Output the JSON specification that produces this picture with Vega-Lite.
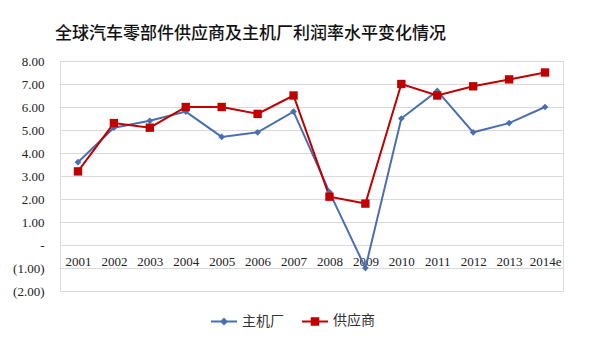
{
  "$schema": "https://vega.github.io/schema/vega-lite/v6.json",
  "width": 503,
  "height": 230,
  "autosize": "none",
  "padding": {"left": 60, "top": 61, "right": 37, "bottom": 60},
  "background": "white",
  "title": {
    "text": "全球汽车零部件供应商及主机厂利润率水平变化情况",
    "anchor": "start",
    "frame": "group",
    "dx": -5,
    "offset": 12,
    "font": "Noto Sans CJK SC",
    "fontSize": 17,
    "fontWeight": 500,
    "color": "#111111"
  },
  "data": {
    "values": [
      {"year": "2001", "series": "主机厂", "value": 3.6},
      {"year": "2002", "series": "主机厂", "value": 5.1},
      {"year": "2003", "series": "主机厂", "value": 5.4},
      {"year": "2004", "series": "主机厂", "value": 5.8},
      {"year": "2005", "series": "主机厂", "value": 4.7},
      {"year": "2006", "series": "主机厂", "value": 4.9},
      {"year": "2007", "series": "主机厂", "value": 5.8},
      {"year": "2008", "series": "主机厂", "value": 2.3},
      {"year": "2009", "series": "主机厂", "value": -1.0},
      {"year": "2010", "series": "主机厂", "value": 5.5},
      {"year": "2011", "series": "主机厂", "value": 6.7},
      {"year": "2012", "series": "主机厂", "value": 4.9},
      {"year": "2013", "series": "主机厂", "value": 5.3},
      {"year": "2014e", "series": "主机厂", "value": 6.0},
      {"year": "2001", "series": "供应商", "value": 3.2},
      {"year": "2002", "series": "供应商", "value": 5.3},
      {"year": "2003", "series": "供应商", "value": 5.1},
      {"year": "2004", "series": "供应商", "value": 6.0},
      {"year": "2005", "series": "供应商", "value": 6.0},
      {"year": "2006", "series": "供应商", "value": 5.7},
      {"year": "2007", "series": "供应商", "value": 6.5},
      {"year": "2008", "series": "供应商", "value": 2.1},
      {"year": "2009", "series": "供应商", "value": 1.8},
      {"year": "2010", "series": "供应商", "value": 7.0},
      {"year": "2011", "series": "供应商", "value": 6.5},
      {"year": "2012", "series": "供应商", "value": 6.9},
      {"year": "2013", "series": "供应商", "value": 7.2},
      {"year": "2014e", "series": "供应商", "value": 7.5}
    ]
  },
  "encoding": {
    "x": {
      "field": "year",
      "type": "ordinal",
      "scale": {"type": "point", "padding": 0.5},
      "axis": {
        "title": null,
        "labelAngle": 0,
        "offset": -46,
        "domain": false,
        "ticks": false,
        "grid": false,
        "labelPadding": 10,
        "labelFont": "Liberation Serif",
        "labelFontSize": 13,
        "labelColor": "#222222"
      }
    },
    "y": {
      "field": "value",
      "type": "quantitative",
      "scale": {"domain": [-2, 8], "nice": false},
      "axis": {
        "title": null,
        "values": [-2, -1, 0, 1, 2, 3, 4, 5, 6, 7, 8],
        "labelExpr": "datum.value == 0 ? '-' : (datum.value < 0 ? '(' + format(-datum.value, '.2f') + ')' : format(datum.value, '.2f'))",
        "domain": false,
        "ticks": false,
        "gridColor": "#D9D9D9",
        "gridWidth": 1,
        "labelPadding": 16,
        "labelFont": "Liberation Serif",
        "labelFontSize": 13,
        "labelColor": "#222222"
      }
    },
    "color": {
      "field": "series",
      "type": "nominal",
      "sort": ["主机厂", "供应商"],
      "scale": {"domain": ["主机厂", "供应商"], "range": ["#4A6FB0", "#C00000"]},
      "legend": {
        "title": null,
        "orient": "none",
        "legendX": 150,
        "legendY": 246,
        "direction": "horizontal",
        "labelFont": "Noto Sans CJK SC",
        "labelFontSize": 14,
        "labelColor": "#333333",
        "symbolSize": 676,
        "symbolStrokeWidth": 2,
        "columnPadding": 14,
        "labelOffset": 4,
        "encode": {
          "symbols": {
            "update": {
              "shape": {"signal": "datum.value == '主机厂' ? 'M-1,0H1M0,-0.2L0.2,0L0,0.2L-0.2,0Z' : 'M-1,0H1M-0.25,-0.25H0.25V0.25H-0.25Z'"},
              "fill": {"signal": "datum.value == '主机厂' ? '#4A6FB0' : '#C00000'"},
              "stroke": {"signal": "datum.value == '主机厂' ? '#4A6FB0' : '#C00000'"},
              "strokeWidth": {"value": 2},
              "size": {"value": 676}
            }
          }
        }
      }
    }
  },
  "layer": [
    {
      "mark": {"type": "line", "strokeWidth": 2},
      "encoding": {}
    },
    {
      "transform": [{"filter": "datum.series == '主机厂'"}],
      "mark": {"type": "point", "filled": true, "opacity": 1, "shape": "diamond", "size": 45},
      "encoding": {}
    },
    {
      "transform": [{"filter": "datum.series == '供应商'"}],
      "mark": {"type": "point", "filled": true, "opacity": 1, "shape": "square", "size": 70},
      "encoding": {}
    }
  ]
}
